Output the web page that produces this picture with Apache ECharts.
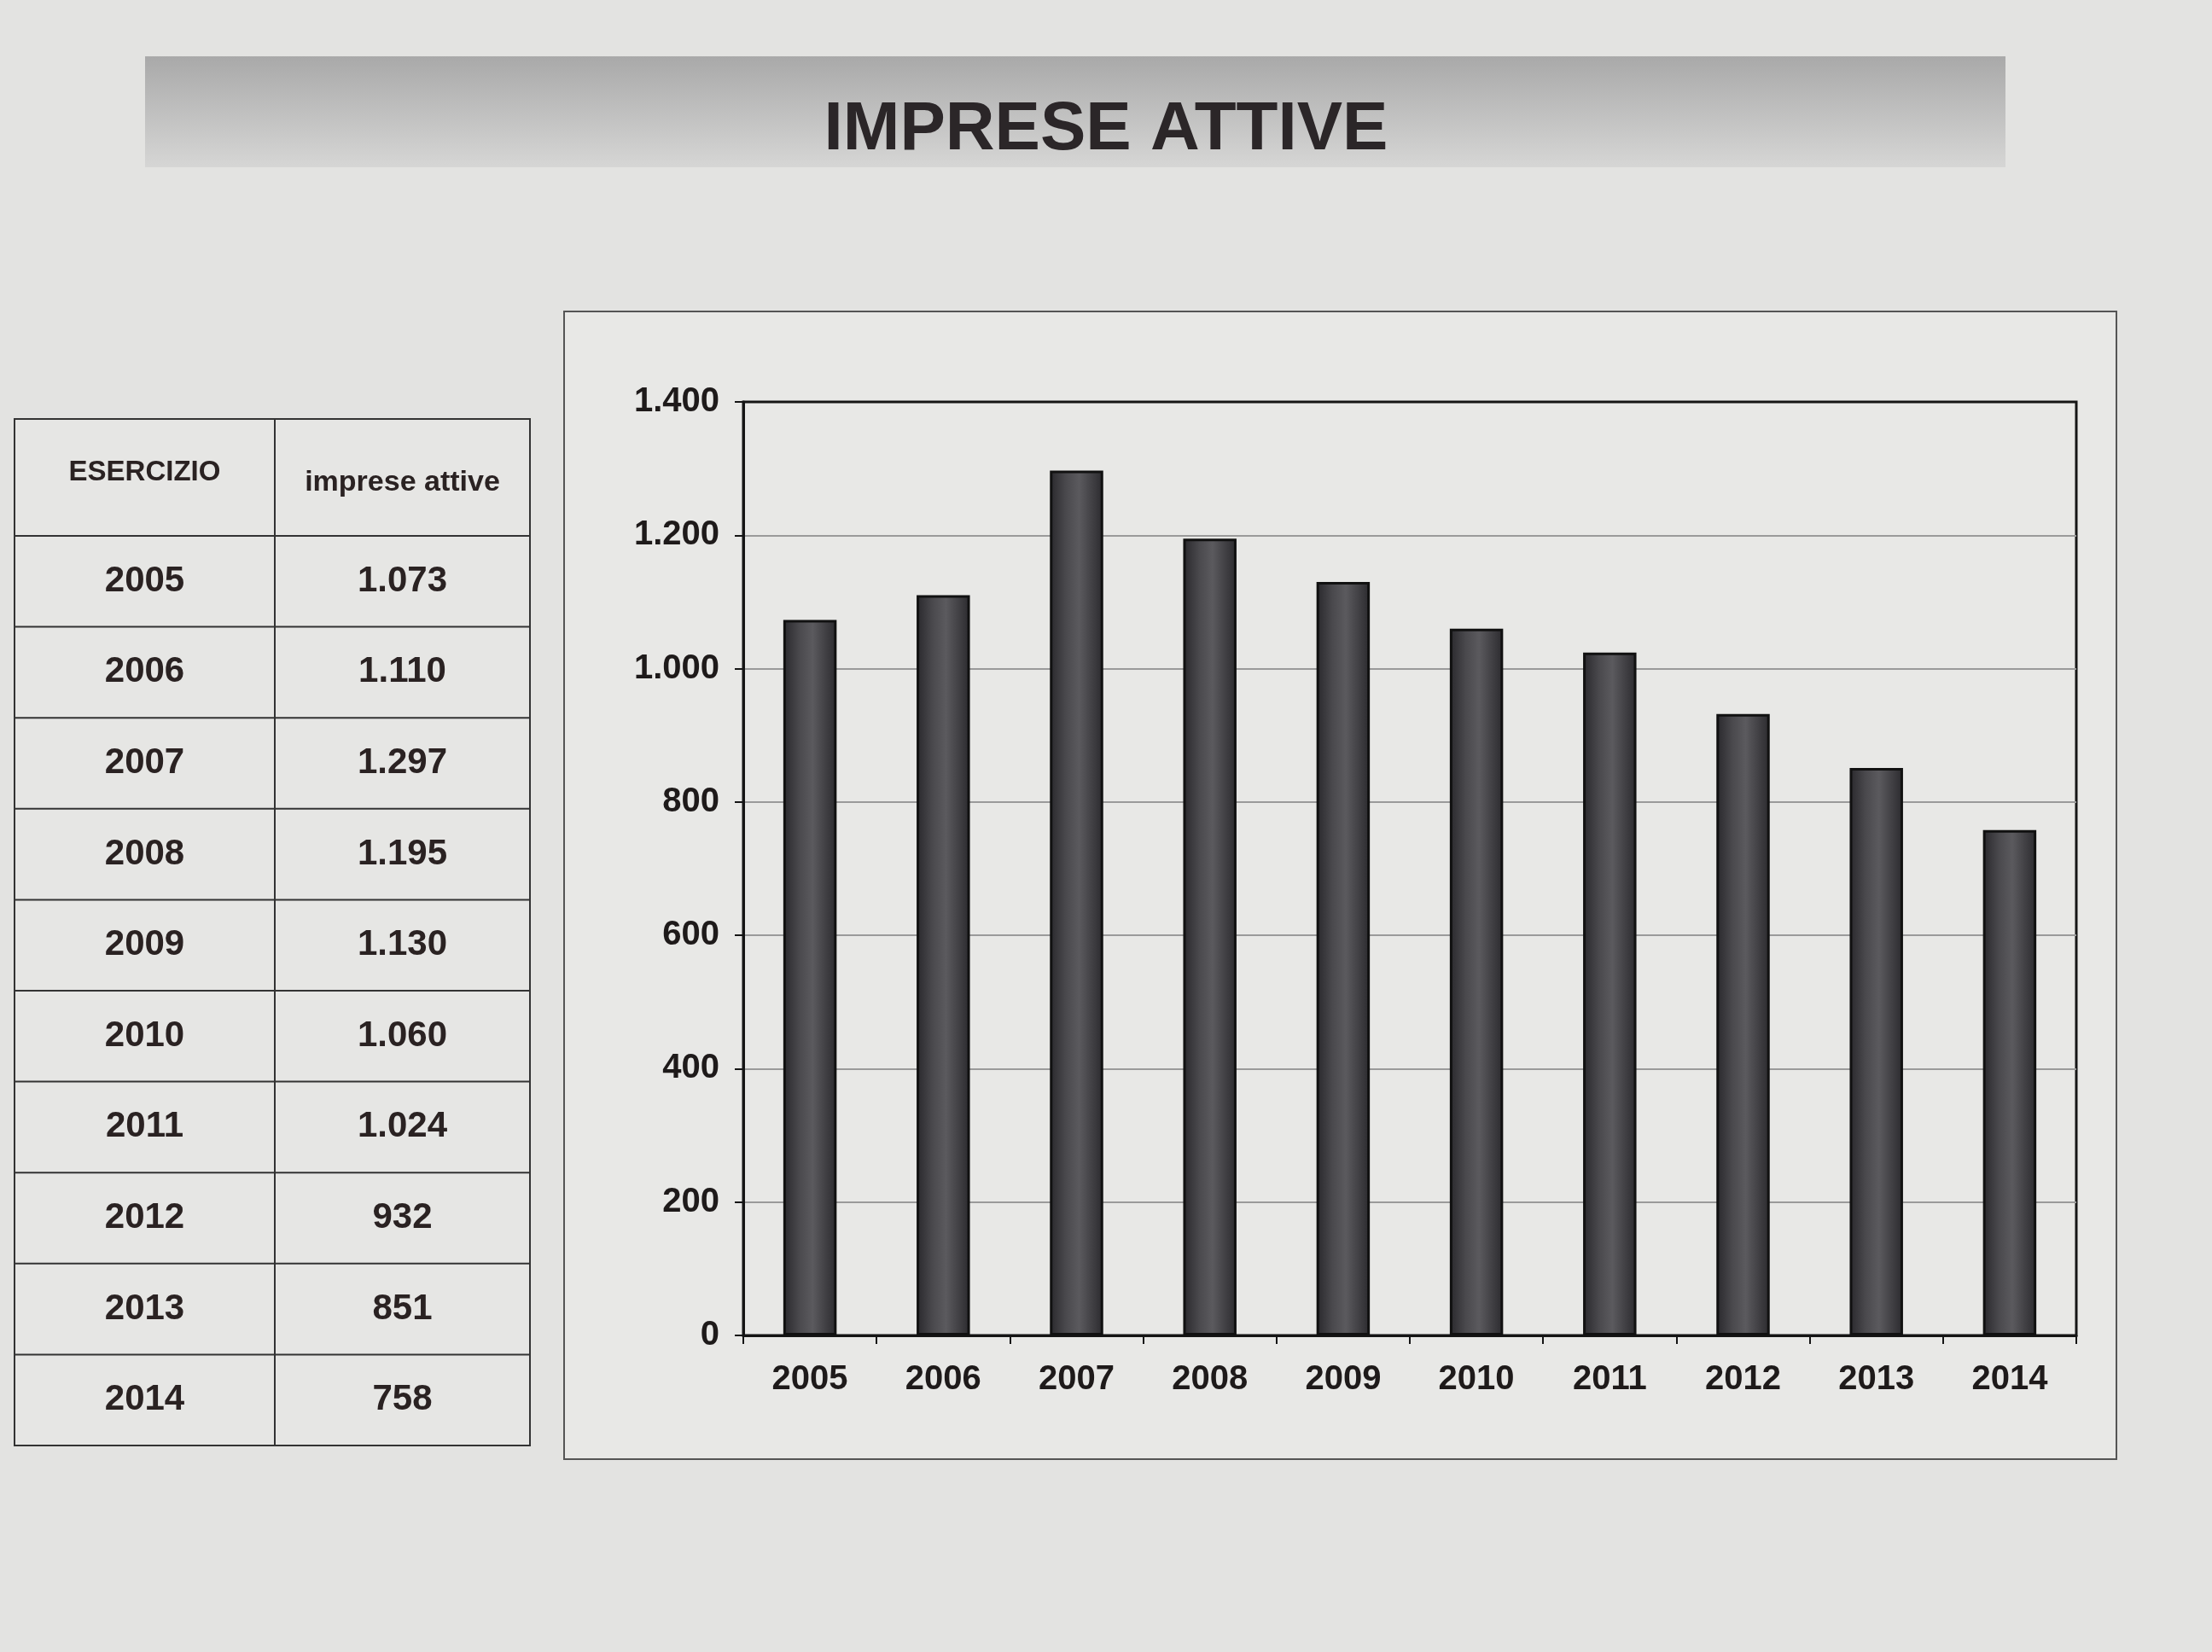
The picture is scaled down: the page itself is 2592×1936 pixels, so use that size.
<!DOCTYPE html>
<html>
<head>
<meta charset="utf-8">
<title>Imprese attive</title>
<script src="https://cdn.jsdelivr.net/npm/echarts@6/dist/echarts.min.js"></script>
<style>
  html, body { margin: 0; padding: 0; background: #e3e3e1; }
  #main { width: 2592px; height: 1936px; }
</style>
</head>
<body>
<div id="main"></div>
<script>
  // dati
  var anni = ['2005', '2006', '2007', '2008', '2009', '2010', '2011', '2012', '2013', '2014'];
  var impreseAttive = [1073, 1110, 1297, 1195, 1130, 1060, 1024, 932, 851, 758];
  var yTicks = [0, 200, 400, 600, 800, 1000, 1200, 1400];

  // numero con il punto delle migliaia
  function fmt(v) {
    return String(v).replace(/\B(?=(\d{3})+(?!\d))/g, '.');
  }

  var chart = echarts.init(document.getElementById('main'));

  //tabella a sinistra
  var tab = { x0: 17, x1: 322, x2: 621, top: 491, head: 137, row: 106.6 };
  var tabGraphics = [];
  var nRows = anni.length;
  var bottom = tab.top + tab.head + tab.row * nRows;
  tabGraphics.push({
    type: 'rect',
    shape: { x: tab.x0, y: tab.top, width: tab.x2 - tab.x0, height: bottom - tab.top },
    style: { fill: '#e6e6e4', stroke: '#333', lineWidth: 2 }
  });
  tabGraphics.push({
    type: 'line',
    shape: { x1: tab.x1, y1: tab.top, x2: tab.x1, y2: bottom },
    style: { stroke: '#333', lineWidth: 2 }
  });
  for (var i = 0; i < nRows; i++) {
    var yLine = tab.top + tab.head + tab.row * i;
    tabGraphics.push({
      type: 'line',
      shape: { x1: tab.x0, y1: yLine, x2: tab.x2, y2: yLine },
      style: { stroke: '#333', lineWidth: 2 }
    });
    var yc = yLine + tab.row / 2;
    tabGraphics.push({
      type: 'text',
      style: {
        x: (tab.x0 + tab.x1) / 2, y: yc, text: anni[i],
        textAlign: 'center', textVerticalAlign: 'middle',
        font: 'bold 42px "Liberation Sans", Arial, sans-serif', fill: '#2a2222'
      }
    });
    tabGraphics.push({
      type: 'text',
      style: {
        x: (tab.x1 + tab.x2) / 2, y: yc, text: fmt(impreseAttive[i]),
        textAlign: 'center', textVerticalAlign: 'middle',
        font: 'bold 42px "Liberation Sans", Arial, sans-serif', fill: '#2a2222'
      }
    });
  }
  tabGraphics.push({
    type: 'text',
    style: {
      x: (tab.x0 + tab.x1) / 2, y: tab.top + tab.head / 2 - 6, text: 'ESERCIZIO',
      textAlign: 'center', textVerticalAlign: 'middle',
      font: 'bold 33px "Liberation Sans", Arial, sans-serif', fill: '#2a2222'
    }
  });
  tabGraphics.push({
    type: 'text',
    style: {
      x: (tab.x1 + tab.x2) / 2, y: tab.top + tab.head / 2 + 6, text: 'imprese attive',
      textAlign: 'center', textVerticalAlign: 'middle',
      font: 'bold 34px "Liberation Sans", Arial, sans-serif', fill: '#2a2222'
    }
  });

  // griglia chiara, ultima linea (bordo superiore) scura
  var splitColors = yTicks.map(function (t, k) {
    return k === yTicks.length - 1 ? '#151515' : '#9a9a9a';
  });

  var option = {
    backgroundColor: '#e3e3e1',
    animation: false,
    title: {
      text: 'IMPRESE ATTIVE',
      left: 'center',
      top: 108,
      textStyle: {
        fontFamily: '"Liberation Sans Narrow", "Liberation Sans", Arial, sans-serif',
        fontWeight: 'bold',
        fontSize: 80,
        color: '#2b2628'
      }
    },
    graphic: [
      //banda del titolo
      {
        type: 'rect',
        z: -10,
        shape: { x: 170, y: 66, width: 2180, height: 130 },
        style: {
          fill: new echarts.graphic.LinearGradient(0, 0, 0, 1, [
            { offset: 0, color: '#a9a9a9' },
            { offset: 1, color: '#d6d6d5' }
          ])
        }
      },
      //cornice del grafico
      {
        type: 'rect',
        z: -10,
        shape: { x: 661, y: 365, width: 1819, height: 1345 },
        style: { fill: '#e8e8e6', stroke: '#555', lineWidth: 2 }
      }
    ].concat(tabGraphics),
    grid: {
      left: 871,
      top: 471,
      right: 159,
      bottom: 371,
      show: true,
      backgroundColor: 'rgba(0,0,0,0)',
      borderColor: '#151515',
      borderWidth: 3
    },
    xAxis: {
      type: 'category',
      data: anni,
      axisLine: { show: true, lineStyle: { color: '#151515', width: 3 } },
      axisTick: { show: true, length: 10, lineStyle: { color: '#151515', width: 2 } },
      axisLabel: {
        margin: 32,
        fontFamily: '"Liberation Sans", Arial, sans-serif',
        fontWeight: 'bold',
        fontSize: 40,
        color: '#1e1a1a'
      }
    },
    yAxis: {
      type: 'value',
      min: yTicks[0],
      max: yTicks[yTicks.length - 1],
      interval: 200,
      axisLine: { show: true, lineStyle: { color: '#151515', width: 3 } },
      axisTick: { show: true, length: 10, lineStyle: { color: '#151515', width: 2 } },
      splitLine: { show: true, lineStyle: { color: splitColors, width: 2 } },
      axisLabel: {
        margin: 28,
        fontFamily: '"Liberation Sans", Arial, sans-serif',
        fontWeight: 'bold',
        fontSize: 40,
        color: '#1e1a1a',
        formatter: function (v) { return fmt(v); }
      }
    },
    series: [
      {
        type: 'bar',
        data: impreseAttive,
        barWidth: '40%',
        itemStyle: {
          color: new echarts.graphic.LinearGradient(0, 0, 1, 0, [
            { offset: 0, color: '#29282c' },
            { offset: 0.3, color: '#4a494d' },
            { offset: 0.55, color: '#5b5a5e' },
            { offset: 1, color: '#2b2a2e' }
          ]),
          borderColor: '#111',
          borderWidth: 3
        }
      }
    ]
  };

  chart.setOption(option);

  window.addEventListener('resize', function () {
    chart.resize();
  });
</script>
</body>
</html>
